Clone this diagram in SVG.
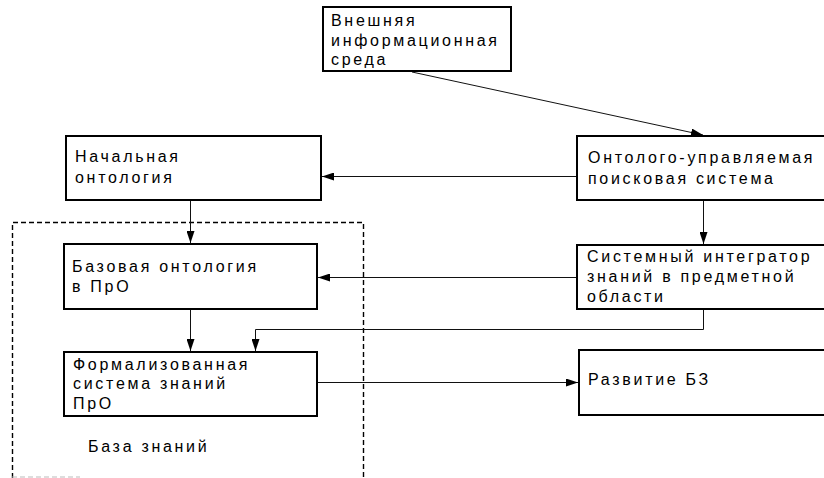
<svg xmlns="http://www.w3.org/2000/svg" width="824" height="478" viewBox="0 0 824 478">
  <style>
    .box { fill: #fff; stroke: #000; stroke-width: 2; }
    .lbl { font-family: "Liberation Sans", Arial, sans-serif; font-size: 16px; letter-spacing: 2.7px; fill: #000; }
    .con { fill: none; stroke: #111; stroke-width: 1; }
    .dash { fill: none; stroke: #000; stroke-width: 1.4; stroke-dasharray: 5 3; }
  </style>
  <defs>
    <marker id="arrow" viewBox="0 0 12 8" refX="12" refY="4" markerWidth="12" markerHeight="8" markerUnits="userSpaceOnUse" orient="auto">
      <path d="M0,0 L12,4 L0,8 Z" fill="#000"/>
    </marker>
  </defs>

  <rect width="824" height="478" fill="#fff"/>

  <!-- knowledge base boundary -->
  <g id="kb-boundary">
    <path class="dash" d="M12.5,478 V222.5 H363.5 V478"/>
    <path d="M12,477 H80" fill="none" stroke="#bbb" stroke-width="1" stroke-dasharray="5 3"/>
    <text class="lbl" x="88" y="452">База знаний</text>
  </g>

  <!-- connectors -->
  <g id="connectors">
    <path class="con" d="M412,72 L703,135" marker-end="url(#arrow)"/>
    <path class="con" d="M577,176.5 H322" marker-end="url(#arrow)"/>
    <path class="con" d="M703.5,200 V244" marker-end="url(#arrow)"/>
    <path class="con" d="M190.5,200 V243" marker-end="url(#arrow)"/>
    <path class="con" d="M577,277.5 H318" marker-end="url(#arrow)"/>
    <path class="con" d="M190.5,309 V351" marker-end="url(#arrow)"/>
    <path class="con" d="M703.5,309 V329.5 H255.5 V351" marker-end="url(#arrow)"/>
    <path class="con" d="M317,382.5 H578" stroke="#444" marker-end="url(#arrow)"/>
  </g>

  <g id="external-env">
    <rect class="box" x="323" y="7" width="188" height="64"/>
    <text class="lbl" x="331" y="26">Внешняя</text>
    <text class="lbl" x="331" y="46">информационная</text>
    <text class="lbl" x="331" y="65">среда</text>
  </g>

  <g id="initial-ontology">
    <rect class="box" x="66" y="136" width="255" height="64"/>
    <text class="lbl" x="75" y="162">Начальная</text>
    <text class="lbl" x="75" y="183">онтология</text>
  </g>

  <g id="search-system">
    <rect class="box" x="577" y="136" width="260" height="64"/>
    <text class="lbl" x="588" y="163">Онтолого-управляемая</text>
    <text class="lbl" x="588" y="184">поисковая система</text>
  </g>

  <g id="integrator">
    <rect class="box" x="577" y="245" width="260" height="64"/>
    <text class="lbl" x="587" y="262">Системный интегратор</text>
    <text class="lbl" x="587" y="282">знаний в предметной</text>
    <text class="lbl" x="587" y="302">области</text>
  </g>

  <g id="base-ontology">
    <rect class="box" x="64" y="244" width="253" height="65"/>
    <text class="lbl" x="72" y="272">Базовая онтология</text>
    <text class="lbl" x="72" y="292">в ПрО</text>
  </g>

  <g id="formal-system">
    <rect class="box" x="64" y="352" width="253" height="64"/>
    <text class="lbl" x="73" y="370">Формализованная</text>
    <text class="lbl" x="73" y="389">система знаний</text>
    <text class="lbl" x="73" y="409">ПрО</text>
  </g>

  <g id="kb-development">
    <rect class="box" x="579" y="350" width="260" height="65"/>
    <text class="lbl" x="588" y="385">Развитие БЗ</text>
  </g>
</svg>
